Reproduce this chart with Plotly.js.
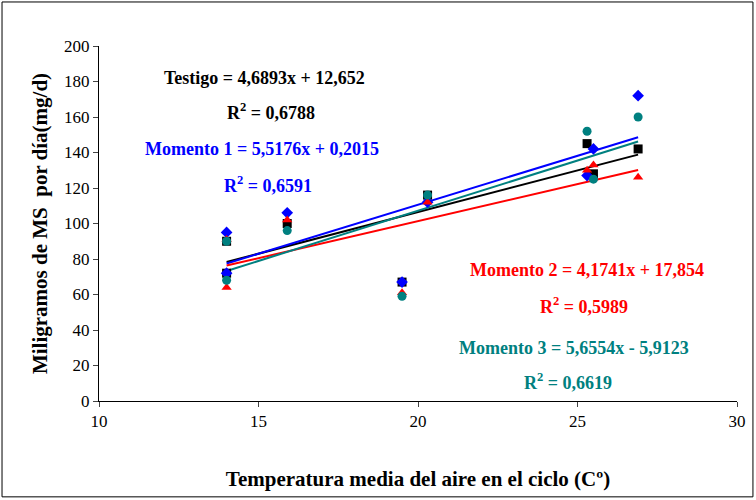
<!DOCTYPE html>
<html><head><meta charset="utf-8">
<script src="https://cdn.plot.ly/plotly-3.0.1.min.js"></script>
<style>body{margin:0}#myDiv{width:756px;height:500px}</style>
</head><body><div id="myDiv"></div>
<script>
var temp = [14, 14, 15.9, 19.5, 20.3, 25.3, 25.5, 26.9];
var testigo = [90, 72, 100, 67, 116, 145, 128, 142];
var momento1 = [95, 72, 106, 67, 112, 127, 142, 172];
var momento2 = [91, 64, 102, 61, 112, 130, 133, 126];
var momento3 = [90, 68, 96, 59, 116, 152, 125, 160];
// slope, intercept from the chart equations
var fits = [[4.6893, 12.652], [5.5176, 0.2015], [4.1741, 17.854], [5.6554, -5.9123]];
var colors = ['black', 'blue', 'red', '#008080'];
var symbols = ['square', 'diamond', 'triangle-up', 'circle'];
var series = [testigo, momento1, momento2, momento3];

var data = [];
var xr = [14, 26.9];
fits.forEach(function (f, i) {
  data.push({x: xr, y: xr.map(function (x) { return f[0] * x + f[1]; }),
    mode: 'lines', line: {color: colors[i], width: 2}});
});
series.forEach(function (s, i) {
  data.push({x: temp, y: s, mode: 'markers',
    marker: {symbol: symbols[i], color: colors[i], size: 9}});
});

var font = {family: 'Liberation Serif', size: 17, color: 'black'};
function ann(x, y, text, color) {
  return {xref: 'x', yref: 'y', x: x, y: y, text: text, showarrow: false,
    font: {family: 'Liberation Serif', size: 18, color: color}};
}
var layout = {
  width: 756, height: 500, showlegend: false,
  margin: {l: 99, r: 19, t: 46, b: 99},
  xaxis: {range: [10, 30], dtick: 5, showgrid: false, zeroline: false, showline: true,
    linecolor: 'black', ticks: 'outside', ticklen: 5,
    tickfont: font, title: {text: '<b>Temperatura media del aire en el ciclo (Cº)</b>',
      font: {family: 'Liberation Serif', size: 21, color: 'black'}, standoff: 40}},
  yaxis: {range: [0, 200], dtick: 20, showgrid: false, zeroline: false, showline: true,
    linecolor: 'black', ticks: 'outside', ticklen: 5,
    tickfont: font, title: {text: '<b>Miligramos de MS  por día(mg/d)</b>',
      font: {family: 'Liberation Serif', size: 21, color: 'black'}, standoff: 10}},
  annotations: [
    ann(15.2, 182, '<b>Testigo = 4,6893x + 12,652</b>', 'black'),
    ann(15.4, 163, '<b>R<sup>2</sup> = 0,6788</b>', 'black'),
    ann(15.1, 142, '<b>Momento 1 = 5,5176x + 0,2015</b>', 'blue'),
    ann(15.3, 122, '<b>R<sup>2</sup> = 0,6591</b>', 'blue'),
    ann(25.3, 74, '<b>Momento 2 = 4,1741x + 17,854</b>', 'red'),
    ann(25.2, 54, '<b>R<sup>2</sup> = 0,5989</b>', 'red'),
    ann(24.9, 30, '<b>Momento 3 = 5,6554x - 5,9123</b>', '#008080'),
    ann(24.7, 11, '<b>R<sup>2</sup> = 0,6619</b>', '#008080')
  ],
  shapes: [{type: 'rect', xref: 'paper', yref: 'paper', x0: -0.152, x1: 1.025, y0: -0.27, y1: 1.124,
    line: {color: 'black', width: 1}}],
  plot_bgcolor: 'white', paper_bgcolor: 'white'
};
Plotly.newPlot('myDiv', data, layout, {displayModeBar: false});
</script></body></html>
